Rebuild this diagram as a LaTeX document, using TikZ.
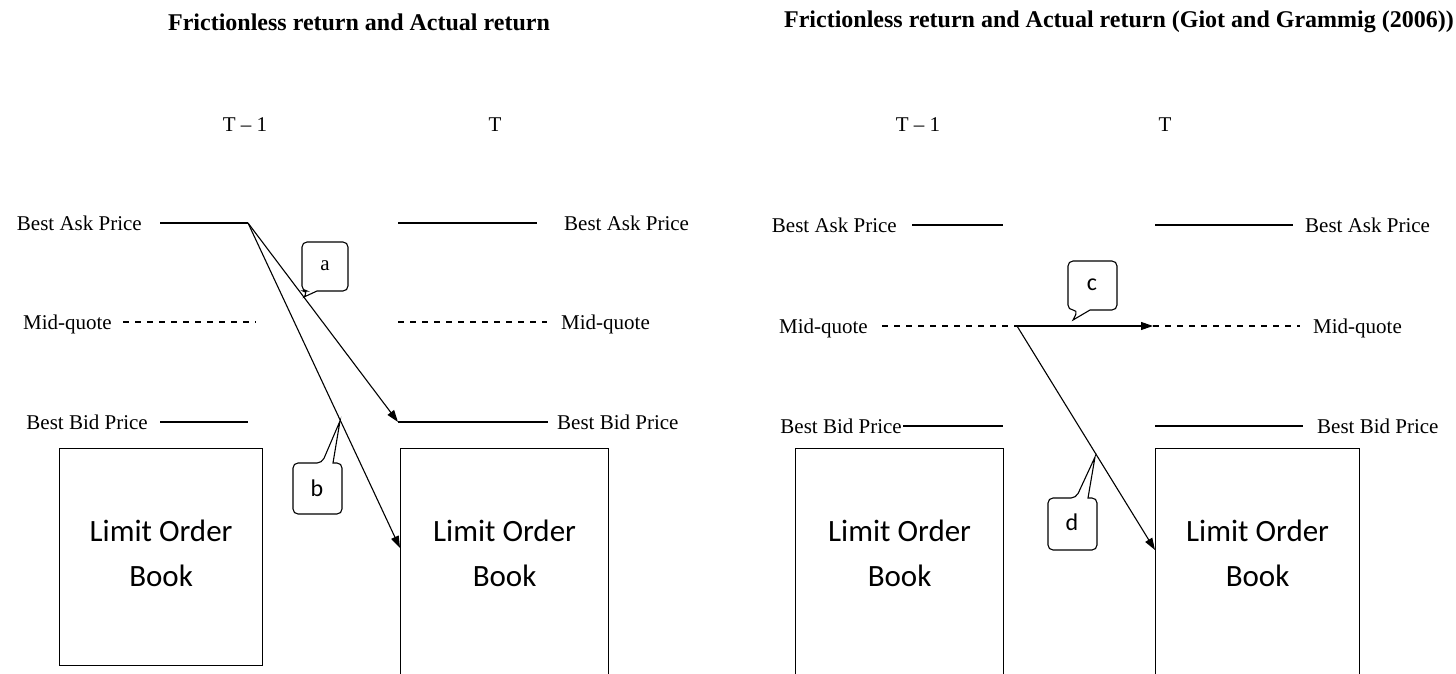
\documentclass[tikz,border=0pt]{standalone}
\usepackage{fontspec}
\setmainfont{Liberation Serif}
\newfontfamily\calfont{Carlito}
\usetikzlibrary{arrows.meta,calc}
\begin{document}
\begin{tikzpicture}[x=1pt,y=-1pt,
  lbl/.style={font=\fontsize{21}{25}\selectfont, inner sep=0pt},
  ttl/.style={font=\fontsize{24}{28}\selectfont\bfseries, inner sep=0pt},
  lvl/.style={line width=1.1pt},
  midline/.style={line width=1.1pt, dash pattern=on 6pt off 6pt},
  arr/.style={line width=1.1pt, -{Triangle[length=12pt,width=8pt]}},
  lob/.style={draw, line width=1.2pt, inner sep=0pt, anchor=north west},
  lobtxt/.style={font=\calfont\fontsize{31}{45}\selectfont, align=center, inner sep=0pt},
  callbox/.style={draw, line width=1.1pt, rounded corners=5pt},
  callser/.style={font=\fontsize{21}{25}\selectfont, inner sep=0pt},
  callsan/.style={font=\calfont\fontsize{24}{28}\selectfont, inner sep=0pt}
]
\useasboundingbox (0,0) rectangle (1456,674);
\clip (0,0) rectangle (1456,674);

% ---------------- Left panel ----------------
\node[ttl] (t1) at (359,22) {Frictionless return and Actual return};
\node[lbl] (lT1) at (245,125) {T – 1};
\node[lbl] (lT) at (495,125) {T};

\node[lbl, anchor=base east] (lAskL) at (142,230.5) {Best Ask Price};
\node[lbl, anchor=base west] (lAskR) at (564,230.5) {Best Ask Price};
\node[lbl, anchor=base east] (lMidL) at (112,329.5) {Mid-quote};
\node[lbl, anchor=base west] (lMidR) at (561,329.5) {Mid-quote};
\node[lbl, anchor=base east] (lBidL) at (148,429.5) {Best Bid Price};
\node[lbl, anchor=base west] (lBidR) at (557,429.5) {Best Bid Price};

\coordinate (lAsk1) at (160,223); \coordinate (lAsk2) at (248,223);
\coordinate (lAsk3) at (398,223); \coordinate (lAsk4) at (537,223);
\coordinate (lMid1) at (123,322); \coordinate (lMid2) at (256,322);
\coordinate (lMid3) at (398,322); \coordinate (lMid4) at (547,322);
\coordinate (lBid1) at (160,422); \coordinate (lBid2) at (248,422);
\coordinate (lBid3) at (398,422); \coordinate (lBid4) at (548,422);

\draw[lvl] (lAsk1) -- (lAsk2);
\draw[lvl] (lAsk3) -- (lAsk4);
\draw[midline] (lMid1) -- (lMid2);
\draw[midline] (lMid3) -- (lMid4);
\draw[lvl] (lBid1) -- (lBid2);
\draw[lvl] (lBid3) -- (lBid4);

\node[lob, minimum width=203pt, minimum height=217pt] (lBook1) at (59,448) {};
\node[lobtxt] (lBook1t) at ($(lBook1.north)+(0,105)$) {Limit Order\\Book};
\node[lob, minimum width=208pt, minimum height=260pt] (lBook2) at (400,448) {};
\node[lobtxt] (lBook2t) at ($(lBook2.north)+(0,105)$) {Limit Order\\Book};

\coordinate (lHitB) at (400,548);
\draw[arr] (lAsk2) -- (lBid3);
\draw[arr] (lAsk2) -- (lHitB);

% callout a
\draw[callbox] (317,291) -- (348,291) -- (348,242) -- (302,242) -- (302,291) -- (308,291) [sharp corners] -- (304,297) -- cycle;
\node[callser] (ca) at (325,266) {a};
% callout b
\draw[callbox] (333,463) -- (342,463) -- (342,514) -- (293,514) -- (293,463) -- (322,463) [sharp corners] -- (340,421) -- cycle;
\node[callsan] (cb) at (317,488) {b};

% ---------------- Right panel ----------------
\node[ttl] (t2) at (1119,22) {Frictionless return and Actual return (Giot and Grammig (2006))};
\node[lbl] (rT1) at (918,125) {T – 1};
\node[lbl] (rT) at (1165,125) {T};

\node[lbl, anchor=base east] (rAskL) at (897,232.5) {Best Ask Price};
\node[lbl, anchor=base west] (rAskR) at (1305,232.5) {Best Ask Price};
\node[lbl, anchor=base east] (rMidL) at (868,333.5) {Mid-quote};
\node[lbl, anchor=base west] (rMidR) at (1313,333.5) {Mid-quote};
\node[lbl, anchor=base east] (rBidL) at (902,433.5) {Best Bid Price};
\node[lbl, anchor=base west] (rBidR) at (1317,433.5) {Best Bid Price};

\coordinate (rAsk1) at (912,225); \coordinate (rAsk2) at (1003,225);
\coordinate (rAsk3) at (1155,225); \coordinate (rAsk4) at (1293,225);
\coordinate (rMid1) at (882,326); \coordinate (rMid2) at (1017,326);
\coordinate (rMid3) at (1153,326); \coordinate (rMid4) at (1300,326);
\coordinate (rBid1) at (903,426); \coordinate (rBid2) at (1003,426);
\coordinate (rBid3) at (1155,426); \coordinate (rBid4) at (1303,426);

\draw[lvl] (rAsk1) -- (rAsk2);
\draw[lvl] (rAsk3) -- (rAsk4);
\draw[midline] (rMid1) -- (rMid2);
\draw[midline] (rMid3) -- (rMid4);
\draw[lvl] (rBid1) -- (rBid2);
\draw[lvl] (rBid3) -- (rBid4);

\node[lob, minimum width=208pt, minimum height=260pt] (rBook1) at (795,448) {};
\node[lobtxt] (rBook1t) at ($(rBook1.north)+(0,105)$) {Limit Order\\Book};
\node[lob, minimum width=204pt, minimum height=260pt] (rBook2) at (1155,448) {};
\node[lobtxt] (rBook2t) at ($(rBook2.north)+(0,105)$) {Limit Order\\Book};

\coordinate (rHitD) at (1155,550);
\draw[arr] (rMid2) -- (rMid3);
\draw[arr] (rMid2) -- (rHitD);

% callout c
\draw[callbox] (1090,310) -- (1117,310) -- (1117,261) -- (1068,261) -- (1068,310) -- (1078,310) [sharp corners] -- (1073,320) -- cycle;
\node[callsan] (cc) at (1092,285) {c};
% callout d
\draw[callbox] (1088,498) -- (1097,498) -- (1097,550) -- (1048,550) -- (1048,498) -- (1076,498) [sharp corners] -- (1095,457) -- cycle;
\node[callsan] (cd) at (1072,522) {d};
\end{tikzpicture}
\end{document}
